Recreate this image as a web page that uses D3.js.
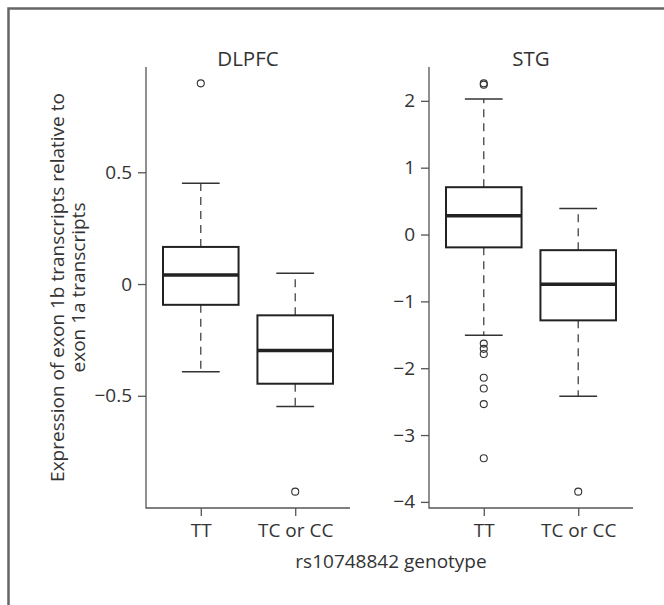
<!DOCTYPE html>
<html>
<head>
<meta charset="utf-8">
<script src="https://cdn.jsdelivr.net/npm/d3@7"></script>
<style>
  body { margin: 0; background: #fff; }
  svg text { font-family: "Open Sans", sans-serif; fill: #333; }
</style>
</head>
<body>
<svg id="chart" width="664" height="605"></svg>
<script>
// nilai
const panels = ['DLPFC', 'STG'];
const genotypes = ['TT', 'TC or CC'];
// [whisker bawah, Q1, median, Q3, whisker atas]
const dlpfcStats = [[-0.392, -0.093, 0.040, 0.166, 0.451], [-0.548, -0.446, -0.297, -0.140, 0.048]];
const dlpfcOutliers = [[0.898], [-0.929]];
const stgStats = [[-1.507, -0.192, 0.281, 0.708, 2.028], [-2.418, -1.284, -0.743, -0.234, 0.390]];
const stgOutliers = [[2.262, 2.241, -1.632, -1.710, -1.788, -2.142, -2.303, -2.537, -3.348], [-3.847]];
const dlpfcTicks = [-0.5, 0, 0.5];
const stgTicks = [-4, -3, -2, -1, 0, 1, 2];

const svg = d3.select('#chart');
const plotTop = 67, plotBottom = 508;
const fontSize = 19;
const titleSize = 20.5;

// bingkai (hanya atas dan kiri)
svg.append('path')
    .attr('d', `M8.5,605 V8.5 H664`)
    .attr('fill', 'none')
    .attr('stroke', '#666')
    .attr('stroke-width', 2.5);

const panelDefs = [
    { name: panels[0], stats: dlpfcStats, outliers: dlpfcOutliers, ticks: dlpfcTicks, left: 146, right: 350 },
    { name: panels[1], stats: stgStats, outliers: stgOutliers, ticks: stgTicks, left: 429, right: 633 }
];

const fmt = d => String(d).replace('-', '\u2212');

panelDefs.forEach(function (p) {
    const allVals = p.stats.flat().concat(p.outliers.flat());
    const lo = d3.min(allVals), hi = d3.max(allVals);
    const pad = (hi - lo) * 0.04;
    const y = d3.scaleLinear().domain([lo - pad, hi + pad]).range([plotBottom, plotTop]);
    const x = d3.scaleLinear().domain([0.42, 2.58]).range([p.left, p.right]);
    const g = svg.append('g');

    // sumbu gaya R (bty = "l")
    g.append('path')
        .attr('d', `M${p.left},${plotTop} V${plotBottom} H${p.right}`)
        .attr('fill', 'none')
        .attr('stroke', '#555')
        .attr('stroke-width', 1.3);

    const yAxis = g.append('g')
        .attr('transform', `translate(${p.left},0)`)
        .call(d3.axisLeft(y).tickValues(p.ticks).tickFormat(fmt).tickSize(8).tickPadding(6));
    yAxis.select('.domain').remove();
    yAxis.selectAll('line').attr('stroke', '#555').attr('stroke-width', 1.3);
    yAxis.selectAll('text').style('font-size', fontSize + 'px').attr('fill', '#333');

    const xAxis = g.append('g')
        .attr('transform', `translate(0,${plotBottom})`)
        .call(d3.axisBottom(x).tickValues([1, 2]).tickFormat((d, i) => genotypes[i]).tickSize(8).tickPadding(8));
    xAxis.select('.domain').remove();
    xAxis.selectAll('line').attr('stroke', '#555').attr('stroke-width', 1.3);
    xAxis.selectAll('text').style('font-size', fontSize + 'px').attr('fill', '#333');

    // judul panel
    g.append('text')
        .attr('x', (p.left + p.right) / 2)
        .attr('y', plotTop - 1)
        .attr('text-anchor', 'middle')
        .style('font-size', titleSize + 'px')
        .text(p.name);

    const boxW = x(1.4) - x(1);
    const capW = boxW / 2;

    p.stats.forEach(function (s, i) {
        const cx = x(i + 1);
        const bg = g.append('g');
        // whisker putus-putus
        bg.append('line')
            .attr('x1', cx).attr('x2', cx)
            .attr('y1', y(s[3])).attr('y2', y(s[4]))
            .attr('stroke', '#444').attr('stroke-width', 1.3).attr('stroke-dasharray', '8,6');
        bg.append('line')
            .attr('x1', cx).attr('x2', cx)
            .attr('y1', y(s[1])).attr('y2', y(s[0]))
            .attr('stroke', '#444').attr('stroke-width', 1.3).attr('stroke-dasharray', '8,6');
        // cap
        [s[0], s[4]].forEach(v => {
            bg.append('line')
                .attr('x1', cx - capW).attr('x2', cx + capW)
                .attr('y1', y(v)).attr('y2', y(v))
                .attr('stroke', '#333').attr('stroke-width', 1.5);
        });
        // kotak
        bg.append('rect')
            .attr('x', cx - boxW).attr('width', boxW * 2)
            .attr('y', y(s[3])).attr('height', y(s[1]) - y(s[3]))
            .attr('fill', 'none').attr('stroke', '#222').attr('stroke-width', 2);
        bg.append('line')
            .attr('x1', cx - boxW).attr('x2', cx + boxW)
            .attr('y1', y(s[2])).attr('y2', y(s[2]))
            .attr('stroke', '#222').attr('stroke-width', 3.5);
        // outlier
        bg.selectAll('circle')
            .data(p.outliers[i])
            .enter().append('circle')
            .attr('cx', cx).attr('cy', d => y(d))
            .attr('r', 3.5)
            .attr('fill', 'none').attr('stroke', '#333').attr('stroke-width', 1.1);
    });
});

// label sumbu y (dua baris)
const yMid = (plotTop + plotBottom) / 2;
const yLab = svg.append('text')
    .attr('transform', `translate(64,${yMid}) rotate(-90)`)
    .attr('text-anchor', 'middle')
    .style('font-size', fontSize + 'px');
yLab.append('tspan').attr('x', 0).attr('dy', 0).text('Expression of exon 1b transcripts relative to');
yLab.append('tspan').attr('x', 0).attr('dy', 21).text('exon 1a transcripts');

// label sumbu x
svg.append('text')
    .attr('x', 391)
    .attr('y', 568)
    .attr('text-anchor', 'middle')
    .style('font-size', fontSize + 'px')
    .text('rs10748842 genotype');
</script>
</body>
</html>
